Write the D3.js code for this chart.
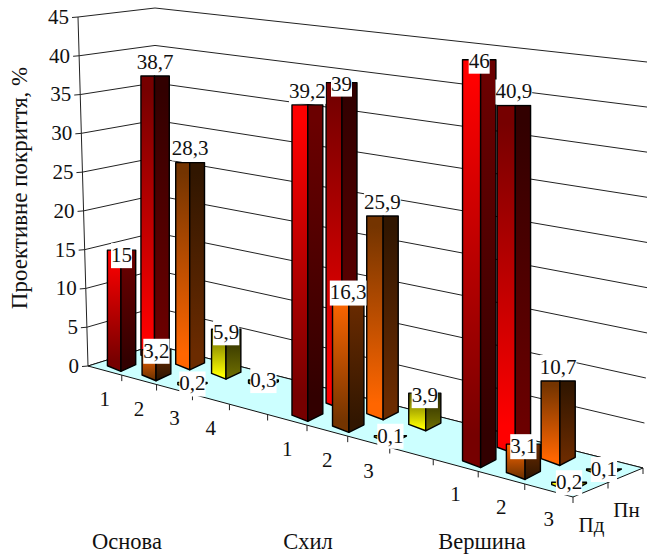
<!DOCTYPE html>
<html>
<head>
<meta charset="utf-8">
<script src="https://cdn.jsdelivr.net/npm/d3@7"></script>
<style>
  body { margin: 0; background: #fff; }
  text { font-family: "Liberation Serif", serif; font-size: 21px; fill: #111; }
  .words { font-size: 22.5px; }
  .title { font-size: 23px; }
</style>
</head>
<body>
<div id="okvir"></div>
<script>
// Vrijednosti ocitane sa slike
var catLabels = ["1", "2", "3", "4", "", "1", "2", "3", "", "1", "2", "3"];
var seriesPd = [15, 3.2, 0.2, null, null, 39.2, 16.3, 0.1, null, 46, 3.1, 0.2];
var seriesPn = [38.7, 28.3, 5.9, 0.3, null, 39, 25.9, 3.9, null, 40.9, 10.7, 0.1];
var seriesNames = ["Пд", "Пн"];
var groupNames = ["Основа", "Схил", "Вершина"];
var valueTicks = [0, 5, 10, 15, 20, 25, 30, 35, 40, 45];

// Rucno pomaknute oznake (koliko je oznaka iznad vrha stupca)
var liftPd = [-5, -1, -1, 0, 0, 14, 0, 0, 0, -1, -2, 0];
var liftPn = [14, 15, -3, 0, 0, -1, 14, -2, 0, 14, 14, 0];
var groupLabelX = [127, 308, 482];

var width = 647, height = 554;

var svg = d3.select("#okvir").append("svg")
    .attr("width", width)
    .attr("height", height);

// Perspektiva poda: indeks kategorije -> udio duz ruba
var sScale = d3.scaleLinear().domain([0, catLabels.length]).range([0, 1]);
function persp(i) {
    var s = sScale(i);
    return 0.8234 * s / (1 - 0.1766 * s);
}
var frontX = d3.scaleLinear().domain([0, 1]).range([88, 573]);
var frontY = d3.scaleLinear().domain([0, 1]).range([366, 497]);
var backX = d3.scaleLinear().domain([0, 1]).range([155, 643]);
var backY = d3.scaleLinear().domain([0, 1]).range([345, 468]);

function floorPt(i, d) {
    var u = persp(i);
    return [
        d3.interpolateNumber(frontX(u), backX(u))(d),
        d3.interpolateNumber(frontY(u), backY(u))(d)
    ];
}

// Os vrijednosti: lijevi zid, kut i desni kraj
var axisX = d3.scaleLinear().domain([0, 45]).range([88, 78]);
var axisY = d3.scaleLinear().domain([0, 45]).range([366, 17]);
var apexY = d3.scaleLinear().domain([0, 45]).range([345, 8]);
var rightX = d3.scaleLinear().domain([0, 45]).range([643, 656]);
var rightY = d3.scaleLinear().domain([0, 45]).range([468, 63]);

// Visina stupca: os ide samo do 45, zato se 46 reze
var clampValue = d3.scaleLinear().domain([0, 45]).range([0, 45]).clamp(true);
var unitPd = d3.scaleLinear().domain([0, 5, 9, 11]).range([7.67, 7.9, 8.9, 9]);
var unitPn = d3.scaleLinear().domain([0, 1, 5, 6, 9, 10, 11]).range([7.2, 7.1, 8.2, 7.6, 8.34, 7.2, 7.2]);
// Stupci su na sredini slike malo desno od sredine kategorije
var barShift = d3.scaleLinear().domain([0, 5, 9, 11]).range([0, 0.08, 0.14, 0.06]);

var bright = ["#ff0000", "#ff6600", "#ffff00", "#ffff00"];
var dark = ["#760000", "#743400", "#666600", "#666600"];
var shade = 0.42;
var depthOf = [0.25, 0.75];

function scaled(c, k) {
    var r = d3.rgb(c);
    return d3.rgb(r.r * k, r.g * k, r.b * k).formatHex();
}

// Prijelazi boja za svaku seriju, boju i stranu stupca
var defs = svg.append("defs");
[0, 1].forEach(function (s) {
    bright.forEach(function (c, b) {
        [1, shade].forEach(function (k, f) {
            var g = defs.append("linearGradient")
                .attr("id", "g" + s + b + f)
                .attr("x1", 0).attr("y1", 0).attr("x2", 0).attr("y2", 1);
            var top = s === 0 ? bright[b] : dark[b];
            var bottom = s === 0 ? dark[b] : bright[b];
            g.append("stop").attr("offset", "5%").attr("stop-color", scaled(top, k));
            g.append("stop").attr("offset", "92%").attr("stop-color", scaled(bottom, k));
        });
    });
});

var line = d3.line();

// Zidovi
var grid = svg.append("g").attr("fill", "none").attr("stroke", "#222").attr("stroke-width", 1);
grid.selectAll("path")
    .data(valueTicks)
    .enter()
    .append("path")
    .attr("d", function (v) {
        return line([[axisX(v) - 6, axisY(v) + 0.5], [axisX(v), axisY(v)], [155, apexY(v)], [rightX(v), rightY(v)]]);
    });
grid.append("path").attr("d", line([[axisX(0), axisY(0)], [axisX(45), axisY(45)]]));

// Pod
svg.append("path")
    .attr("d", line([floorPt(0, 0), floorPt(0, 1), floorPt(12, 1), floorPt(12, 0)]) + "Z")
    .attr("fill", "#ccffff")
    .attr("stroke", "#111");

// Crtice na rubovima poda
var floorTicks = svg.append("g").attr("stroke", "#222");
floorTicks.selectAll("line.cat")
    .data(d3.range(1, 13))
    .enter()
    .append("line")
    .attr("class", "cat")
    .attr("x1", function (i) { return floorPt(i, 0)[0]; })
    .attr("x2", function (i) { return floorPt(i, 0)[0]; })
    .attr("y1", function (i) { return floorPt(i, 0)[1]; })
    .attr("y2", function (i) { return floorPt(i, 0)[1] + 6; });
floorTicks.selectAll("line.ser")
    .data([0.5, 1])
    .enter()
    .append("line")
    .attr("class", "ser")
    .attr("x1", function (d) { return floorPt(12, d)[0]; })
    .attr("x2", function (d) { return floorPt(12, d)[0]; })
    .attr("y1", function (d) { return floorPt(12, d)[1]; })
    .attr("y2", function (d) { return floorPt(12, d)[1] + 6; });

// Priprema stupaca
function buildBars(values, lift, s) {
    var out = [];
    values.forEach(function (v, i) {
        if (v === null) return;
        var unit = s === 0 ? unitPd : unitPn;
        out.push({ v: v, i: i, s: s, lift: lift[i], unit: unit(i), colour: +catLabels[i] - 1 });
    });
    return out;
}
var barsPd = buildBars(seriesPd, liftPd, 0);
var barsPn = buildBars(seriesPn, liftPn, 1);

var halfW = 0.2, halfD = 0.11;

function barGeom(b) {
    var ci = b.i + 0.5 + barShift(b.i), d = depthOf[b.s];
    var c = floorPt(ci, d);
    var topY = c[1] - b.unit * clampValue(b.v);
    var left = floorPt(ci - halfW, d - halfD);
    var mid = floorPt(ci + halfW, d - halfD);
    var right = floorPt(ci + halfW, d + halfD);
    mid = [mid[0], mid[1] + 2];
    return { c: c, topY: topY, left: left, mid: mid, right: right };
}

// Stupci: prvo straznji red, pa prednji
barsPn.concat(barsPd).forEach(function (b) {
    var g = barGeom(b);
    var bar = svg.append("g").attr("stroke", "#000").attr("stroke-width", 1.4).attr("stroke-linejoin", "round");
    bar.append("path")
        .attr("d", line([[g.left[0], g.topY], [g.mid[0], g.topY], g.mid, g.left]) + "Z")
        .attr("fill", "url(#g" + b.s + b.colour + "0)");
    bar.append("path")
        .attr("d", line([[g.mid[0], g.topY], [g.right[0], g.topY], g.right, g.mid]) + "Z")
        .attr("fill", "url(#g" + b.s + b.colour + "1)");
});

// Oznake vrijednosti s bijelom pozadinom
var labels = svg.append("g");
barsPn.concat(barsPd).forEach(function (b) {
    var g = barGeom(b);
    var lab = labels.append("g");
    var box = lab.append("rect").attr("fill", "#fff");
    var t = lab.append("text")
        .attr("x", g.c[0])
        .attr("y", g.topY - b.lift)
        .attr("dy", "0.33em")
        .attr("text-anchor", "middle")
        .text(String(b.v).replace(".", ","));
    var bb = t.node().getBBox();
    box.attr("x", bb.x).attr("width", bb.width)
        .attr("y", g.topY - b.lift - 12).attr("height", 25);
});

// Oznake osi
svg.append("g").selectAll("text")
    .data(valueTicks)
    .enter()
    .append("text")
    .attr("x", function (v) { return axisX(v) - 9; })
    .attr("y", function (v) { return axisY(v); })
    .attr("dy", "0.33em")
    .attr("text-anchor", "end")
    .text(function (v) { return v; });

svg.append("g").selectAll("text")
    .data(catLabels)
    .enter()
    .append("text")
    .attr("x", function (c, i) { return floorPt(i + 0.5, 0)[0]; })
    .attr("y", function (c, i) { return floorPt(i + 0.5, 0)[1] + 29; })
    .attr("dy", "0.33em")
    .attr("text-anchor", "middle")
    .text(function (c) { return c; });

svg.append("g").selectAll("text")
    .data(seriesNames)
    .enter()
    .append("text")
    .attr("x", function (n, k) { return floorPt(12, depthOf[k])[0] + 1; })
    .attr("y", function (n, k) { return floorPt(12, depthOf[k])[1] + 35; })
    .attr("dy", "0.33em")
    .attr("text-anchor", "middle")
    .text(function (n) { return n; });

svg.append("g").selectAll("text")
    .data(groupNames)
    .enter()
    .append("text")
    .attr("class", "words")
    .attr("x", function (n, k) { return groupLabelX[k]; })
    .attr("y", 549)
    .attr("text-anchor", "middle")
    .text(function (n) { return n; });

// Naslov osi
svg.append("text")
    .attr("class", "title")
    .attr("transform", "translate(27,188) rotate(-90)")
    .attr("text-anchor", "middle")
    .text("Проективне покриття, %");
</script>
</body>
</html>
